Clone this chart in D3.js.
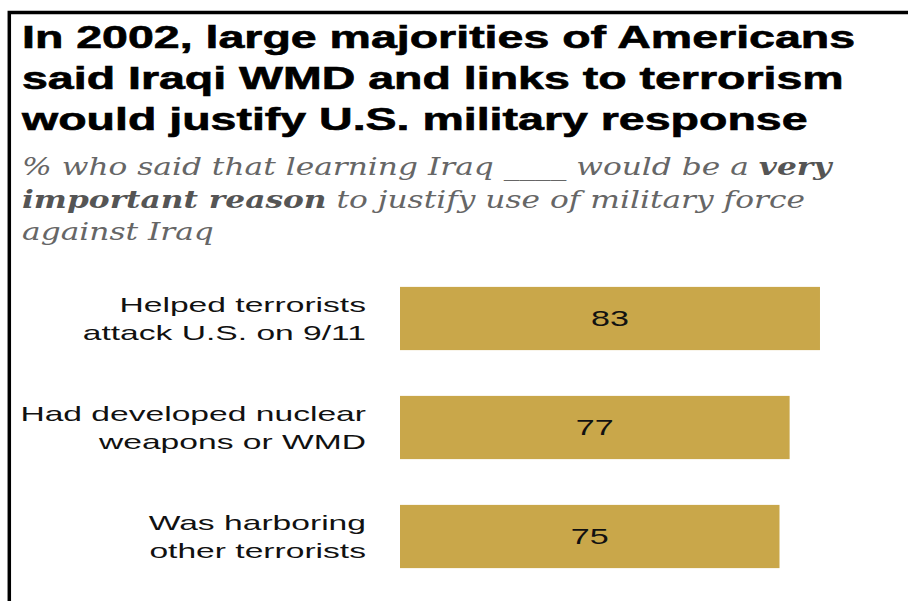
<!DOCTYPE html>
<html lang="en">
<head>
    <meta charset="UTF-8">
    <title>Iraq military response</title>
    <script src="https://d3js.org/d3.v7.min.js"></script>
    <style>
        body { margin: 0; background: #fff; }
        svg { display: block; }
    </style>
</head>
<body>
<svg></svg>
<script>
    // data
    const reasons = [
        ["Helped terrorists", "attack U.S. on 9/11"],
        ["Had developed nuclear", "weapons or WMD"],
        ["Was harboring", "other terrorists"]
    ];
    const shares = [83, 77, 75];

    const titleLines = [
        "In 2002, large majorities of Americans",
        "said Iraqi WMD and links to terrorism",
        "would justify U.S. military response"
    ];
    // subtitle lines: [text, bold]
    const subtitleLines = [
        [["% who said that learning Iraq ____ would be a ", false], ["very", true]],
        [["important reason", true], [" to justify use of military force", false]],
        [["against Iraq", false]]
    ];

    const width = 908, height = 601;
    const svg = d3.select("svg").attr("width", width).attr("height", height);

    // widen text horizontally, the source picture is stretched
    function stretch(sel, k) {
        sel.each(function() {
            const w = this.getComputedTextLength();
            d3.select(this).attr("textLength", w * k).attr("lengthAdjust", "spacingAndGlyphs");
        });
    }

    // frame
    svg.append("path")
        .attr("d", "M9.3," + height + "V12.5H" + width)
        .attr("fill", "none")
        .attr("stroke", "#000")
        .attr("stroke-width", 3.5);

    // title
    const title = svg.append("g")
        .selectAll("text")
        .data(titleLines)
        .join("text")
        .attr("x", 22)
        .attr("y", (d, i) => 48 + i * 41)
        .attr("font-family", "Liberation Sans, Arial, sans-serif")
        .attr("font-weight", "bold")
        .attr("font-size", 31)
        .attr("fill", "#000")
        .attr("stroke", "#000")
        .attr("stroke-width", 0.6)
        .text(d => d);
    stretch(title, 1.5);

    // subtitle
    const sub = svg.append("g")
        .selectAll("text")
        .data(subtitleLines)
        .join("text")
        .attr("x", 22)
        .attr("y", (d, i) => 175 + i * 32.5)
        .attr("font-family", "DejaVu Serif, serif")
        .attr("font-style", "italic")
        .attr("font-size", 25)
        .attr("fill", "#666");
    sub.selectAll("tspan")
        .data(d => d)
        .join("tspan")
        .attr("font-weight", d => d[1] ? "bold" : "normal")
        .attr("fill", d => d[1] ? "#555" : "#666")
        .text(d => d[0]);
    stretch(sub, 1.25);

    // scales
    const y = d3.scaleBand()
        .domain(reasons.map(d => d.join(" ")))
        .range([264, 591])
        .paddingInner(0.42)
        .paddingOuter(0.21);
    const x = d3.scaleLinear().domain([0, 100]).range([400, 906]);

    const rows = svg.append("g")
        .selectAll("g")
        .data(reasons.map((r, i) => ({label: r, value: shares[i]})))
        .join("g")
        .attr("transform", d => "translate(0," + y(d.label.join(" ")) + ")");

    rows.append("rect")
        .attr("x", x(0))
        .attr("y", 0)
        .attr("width", d => x(d.value) - x(0))
        .attr("height", y.bandwidth())
        .attr("fill", "#c9a74a");

    const values = rows.append("text")
        .attr("x", d => (x(0) + x(d.value)) / 2)
        .attr("y", y.bandwidth() / 2 + 8)
        .attr("text-anchor", "middle")
        .attr("font-family", "Liberation Sans, Arial, sans-serif")
        .attr("font-size", 22)
        .attr("fill", "#111")
        .text(d => d.value);
    stretch(values, 1.55);

    const labels = rows.selectAll("text.label")
        .data(d => d.label)
        .join("text")
        .attr("class", "label")
        .attr("x", 366)
        .attr("y", (d, i) => y.bandwidth() / 2 - 6 + i * 28)
        .attr("text-anchor", "end")
        .attr("font-family", "Liberation Sans, Arial, sans-serif")
        .attr("font-size", 21)
        .attr("fill", "#111")
        .text(d => d);
    stretch(labels, 1.6);
</script>
</body>
</html>
